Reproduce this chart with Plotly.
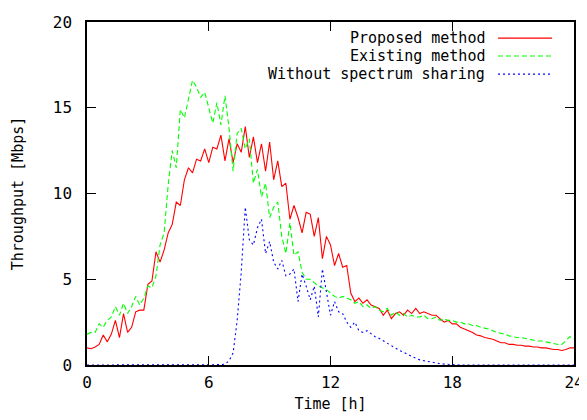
import plotly.graph_objects as go

# ---------------- data ----------------
time_step_h = 0.2  # sampling interval of all series [h]

proposed = [
    1.0, 0.95, 1.05, 1.2, 1.75, 1.35, 1.8, 2.6, 1.6, 3.0,
    1.9, 2.2, 3.1, 3.2, 3.2, 4.7, 4.9, 6.6, 6.0, 6.7,
    7.7, 8.2, 9.5, 9.3, 10.8, 11.5, 11.2, 12.0, 11.9, 12.6,
    11.8, 12.7, 12.6, 13.4, 11.9, 13.2, 11.8, 12.9, 12.4, 13.9,
    12.1, 13.3, 11.8, 12.9, 11.3, 13.0, 10.8, 11.9, 10.4, 10.6,
    8.5, 9.3, 8.6, 7.7, 8.9, 8.8, 7.5, 8.6, 6.2, 7.5,
    7.0, 5.8, 6.5, 5.7, 5.8, 4.2, 3.7, 3.9, 3.6, 3.8,
    3.5, 3.4, 3.3, 2.9, 3.2, 2.7, 3.0, 3.1, 2.9, 3.2,
    3.0, 3.3, 3.0, 3.1, 3.0, 2.9, 2.9, 2.7, 2.5, 2.6,
    2.4, 2.4, 2.2, 2.1, 2.0, 1.9, 1.75, 1.7, 1.6, 1.55,
    1.5, 1.4, 1.3, 1.3, 1.2, 1.2, 1.15, 1.15, 1.1, 1.1,
    1.05, 1.05, 1.0, 1.0, 0.95, 0.9, 0.9, 0.85, 0.9, 1.0,
    1.0,
]

existing = [
    1.8, 1.9, 1.9, 2.4, 2.2, 2.6, 2.8, 3.4, 2.9, 3.6,
    3.0, 3.4, 4.0, 3.5, 3.9, 4.6, 4.5, 5.2, 7.0, 7.7,
    10.5, 12.5, 11.5, 14.9, 14.4, 15.5, 16.6, 16.2, 15.6, 15.9,
    15.0, 14.1, 15.3, 14.0, 15.7, 13.8, 11.3, 13.5, 13.8, 12.6,
    13.2, 10.6, 11.4, 9.8, 10.6, 8.6, 9.2, 9.5, 7.5, 6.5,
    8.3, 6.4, 6.6, 5.4, 5.0, 5.0, 4.8, 4.6, 4.5, 4.4,
    4.2, 4.0, 3.9, 4.0, 3.9, 3.8, 3.6, 3.7, 3.4, 3.5,
    3.3, 3.4, 3.2, 3.1, 3.3, 2.9, 3.1, 2.9, 3.0, 2.8,
    2.9, 2.8, 2.8, 2.9, 2.7, 2.7, 2.8, 2.6, 2.7, 2.6,
    2.6, 2.5, 2.5, 2.4, 2.4, 2.3, 2.3, 2.2, 2.15, 2.1,
    2.0, 1.9, 1.85, 1.8, 1.7, 1.65, 1.6, 1.6, 1.55, 1.5,
    1.45, 1.4, 1.4, 1.35, 1.3, 1.25, 1.2, 1.2, 1.4, 1.65,
    1.5,
]

without_sharing = [
    0, 0, 0, 0, 0, 0, 0, 0, 0, 0,
    0, 0, 0, 0, 0, 0, 0, 0, 0, 0,
    0, 0, 0, 0, 0, 0, 0, 0, 0, 0,
    0, 0, 0, 0.02, 0.05, 0.25, 0.7, 2.6, 5.4, 9.2,
    7.3, 7.0, 8.0, 8.5, 6.5, 7.2, 6.0, 5.6, 6.1, 5.2,
    5.3, 5.6, 3.7, 5.3, 4.6, 3.8, 4.6, 2.8, 5.6, 4.2,
    2.9, 3.7, 3.1, 3.0, 2.5, 2.2, 2.5, 2.0, 1.9, 2.0,
    1.8, 1.65, 1.55, 1.4, 1.3, 1.1, 0.95, 0.85, 0.75, 0.6,
    0.5, 0.4, 0.3, 0.25, 0.2, 0.15, 0.1, 0.08, 0.05, 0.03,
    0.02, 0, 0, 0, 0, 0, 0, 0, 0, 0,
    0, 0, 0, 0, 0, 0, 0, 0, 0, 0,
    0, 0, 0, 0, 0, 0, 0, 0, 0, 0,
    0,
]

series_names = ["Proposed method", "Existing method", "Without spectrum sharing"]
x_ticks = [0, 6, 12, 18, 24]
y_ticks = [0, 5, 10, 15, 20]
x_title = "Time [h]"
y_title = "Throughput [Mbps]"

# ---------------- styles ----------------
colors = ["#ff0000", "#00ff00", "#0000ff"]
dashes = ["solid", "5px,3px", "2px,3px"]
FONT = "DejaVu Sans Mono"

fig = go.Figure()
for name, vals, c, d in zip(series_names, [proposed, existing, without_sharing], colors, dashes):
    t = [round(i * time_step_h, 2) for i in range(len(vals))]
    fig.add_trace(go.Scatter(x=t, y=vals, mode="lines", name=name, showlegend=False,
                             line=dict(color=c, width=1.1, dash=d)))

axis_common = dict(showgrid=False, zeroline=False, showline=True, linecolor="black",
                   linewidth=1.5, mirror="ticks", ticks="inside", ticklen=9,
                   tickwidth=1.3, tickcolor="black", automargin=False,
                   tickfont=dict(family=FONT, size=16, color="black"))

fig.update_xaxes(range=[0, 24], tickvals=x_ticks, ticktext=[str(v) for v in x_ticks],
                 ticklabelstandoff=2,
                 title=dict(text=x_title, font=dict(family=FONT, size=15, color="black"),
                            standoff=8),
                 **axis_common)
fig.update_yaxes(range=[0, 20], tickvals=y_ticks, ticktext=[str(v) for v in y_ticks],
                 ticklabelstandoff=10,
                 title=dict(text=y_title, font=dict(family=FONT, size=15, color="black"),
                            standoff=26),
                 **axis_common)

# gnuplot-style key: right-aligned text, line sample on the right
key_rows_y = [0.953, 0.901, 0.848]
for name, c, d, ky in zip(series_names, colors, dashes, key_rows_y):
    fig.add_annotation(x=0.8214, y=ky, xref="paper", yref="paper", text=name,
                       showarrow=False, xanchor="right", yanchor="middle",
                       font=dict(family=FONT, size=15, color="black"))
    fig.add_shape(type="line", xref="paper", yref="paper", x0=0.844, x1=0.955,
                  y0=ky, y1=ky, line=dict(color=c, width=1.1, dash=d))

# the page body has an 8px margin, so the figure is offset by (8, 8)
fig.update_layout(width=579, height=412, margin=dict(l=79, r=13, t=14, b=55),
                  paper_bgcolor="white", plot_bgcolor="white",
                  font=dict(family=FONT, color="black"))

fig.write_html("out.html")
